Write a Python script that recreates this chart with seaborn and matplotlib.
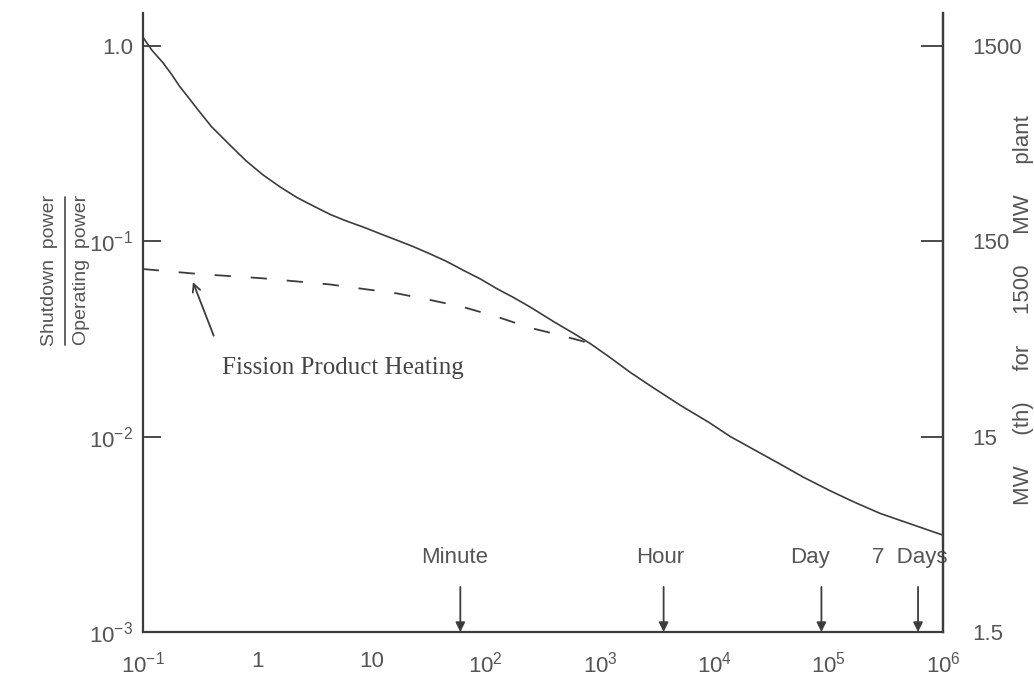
import numpy as np
import pandas as pd
import matplotlib
matplotlib.use("Agg")
import matplotlib.pyplot as plt
from matplotlib.lines import Line2D
import seaborn as sns

# ---- data ----
t_total = [0.1, 0.12, 0.15, 0.18, 0.21, 0.25, 0.3, 0.4, 0.58, 0.8, 1.13, 1.6, 2.24,
           3.2, 4.36, 6.0, 8.5, 12, 16.8, 23, 32.7, 45, 63.5, 90, 126, 175, 245,
           400, 600, 822, 1200, 1840, 3000, 5000, 9000, 13800, 22000, 37800, 60000,
           103000, 170000, 283000, 500000, 1e6]
p_total = [1.11, 0.95, 0.82, 0.71, 0.62, 0.545, 0.475, 0.385, 0.31, 0.258, 0.218,
           0.189, 0.167, 0.150, 0.137, 0.127, 0.118, 0.109, 0.101, 0.094, 0.086,
           0.079, 0.071, 0.064, 0.057, 0.0515, 0.046, 0.0385, 0.0335, 0.0299, 0.0256,
           0.0213, 0.0176, 0.0145, 0.0118, 0.0100, 0.0086, 0.00722, 0.0062, 0.00528,
           0.0046, 0.00404, 0.0036, 0.00313]

t_fission = [0.1, 0.3, 1.13, 4.36, 16.8, 32.7, 63.5, 126, 245, 366, 670, 822]
p_fission = [0.072, 0.068, 0.0645, 0.060, 0.054, 0.050, 0.046, 0.041, 0.036,
             0.034, 0.031, 0.0299]

x_ticks = [0.1, 1, 10, 100, 1000, 1e4, 1e5, 1e6]
x_labels = [r"$\mathregular{10^{-1}}$", "1", "10", r"$\mathregular{10^{2}}$",
            r"$\mathregular{10^{3}}$", r"$\mathregular{10^{4}}$",
            r"$\mathregular{10^{5}}$", r"$\mathregular{10^{6}}$"]
y_ticks = [1.0, 0.1, 0.01, 0.001]
y_labels = ["1.0", r"$\mathregular{10^{-1}}$", r"$\mathregular{10^{-2}}$",
            r"$\mathregular{10^{-3}}$"]
mw_ticks = [1500, 150, 15, 1.5]
mw_labels = ["1500", "150", "15", "1.5"]
plant_mw = 1500

markers_names = ["Minute", "Hour", "Day", "7  Days"]
markers_t = [60, 3600, 86400, 604800]
markers_text_x = [54, 3360, 68900, 516000]

# ---- style ----
sns.set_style("white")
plt.rcParams["font.family"] = ["Liberation Sans", "DejaVu Sans"]
plt.rcParams["mathtext.fontset"] = "custom"
plt.rcParams["mathtext.rm"] = "Liberation Sans"
plt.rcParams["mathtext.it"] = "Liberation Sans:italic"

ink = "#3c3c3c"
txt = "#555555"

fig = plt.figure(figsize=(10.34, 6.80), dpi=100)
ax = fig.add_axes([142.7 / 1034, 48 / 680, (943 - 142.7) / 1034, (632 - 13) / 680])

df_total = pd.DataFrame({"t": t_total, "p": p_total})
df_fp = pd.DataFrame({"t": t_fission, "p": p_fission})

sns.lineplot(data=df_total, x="t", y="p", ax=ax, color=ink, lw=1.2, estimator=None)
sns.lineplot(data=df_fp, x="t", y="p", ax=ax, color=ink, lw=1.3, estimator=None)
ax.lines[-1].set_dashes([9, 11])

ax.set_xscale("log")
ax.set_yscale("log")
ax.set_xlim(0.1, 1e6)
ax.set_ylim(1e-3, 1.47)

ax.set_xticks(x_ticks)
ax.set_xticklabels(x_labels)
ax.set_yticks(y_ticks)
ax.set_yticklabels(y_labels)
ax.minorticks_off()
ax.tick_params(axis="both", direction="in", length=13, width=1.3, color=ink,
               labelsize=16, labelcolor=txt)
ax.tick_params(axis="x", pad=14)
ax.tick_params(axis="y", pad=7)
ax.set_xlabel("")
ax.set_ylabel("")
ax.spines["top"].set_visible(False)
for side in ["left", "bottom", "right"]:
    ax.spines[side].set_color(ink)
    ax.spines[side].set_linewidth(1.6)

# right axis in MW(th)
ax2 = ax.twinx()
ax2.set_yscale("log")
ax2.set_ylim(1e-3 * plant_mw, 1.47 * plant_mw)
ax2.set_yticks(mw_ticks)
ax2.set_yticklabels(mw_labels)
ax2.minorticks_off()
ax2.tick_params(axis="y", direction="in", length=16, width=1.3, color=ink,
                labelsize=16, labelcolor=txt, pad=21)
for side in ["top", "left", "bottom"]:
    ax2.spines[side].set_visible(False)
ax2.spines["right"].set_color(ink)
ax2.spines["right"].set_linewidth(1.6)

# time markers
for name, t, tx in zip(markers_names, markers_t, markers_text_x):
    ax.annotate("", xy=(t, 1.0e-3), xytext=(t, 1.7e-3),
                arrowprops=dict(arrowstyle="-|>", color=ink, lw=1.3,
                                mutation_scale=14, shrinkA=0, shrinkB=0))
    ax.text(tx, 2.4e-3, name, ha="center", va="center", fontsize=16, color=txt)

# fission product label
ax.annotate("Fission Product Heating", xy=(0.275, 0.0617), xytext=(0.494, 0.0224),
            ha="left", va="center", fontsize=18, color="#444444",
            family=["Liberation Serif", "DejaVu Serif"],
            arrowprops=dict(arrowstyle="->", color=ink, lw=1.3,
                            mutation_scale=14, shrinkA=14, shrinkB=0,
                            relpos=(0.0, 1.0)))

# left fraction label
fig.text(50 / 1034, 1 - 270 / 680, "Shutdown  power", rotation=90,
         ha="center", va="center", fontsize=14, color=txt)
fig.text(81 / 1034, 1 - 270 / 680, "Operating  power", rotation=90,
         ha="center", va="center", fontsize=14, color=txt)
fig.add_artist(Line2D([65 / 1034, 65 / 1034], [1 - 345 / 680, 1 - 197 / 680],
                      transform=fig.transFigure, color=txt, lw=1.3))

# right label
fig.text(1023 / 1034, 1 - 310 / 680, "MW     (th)     for     1500     MW     plant",
         rotation=90, ha="center", va="center", fontsize=16, color=txt)

fig.savefig("out.png", dpi=100)
